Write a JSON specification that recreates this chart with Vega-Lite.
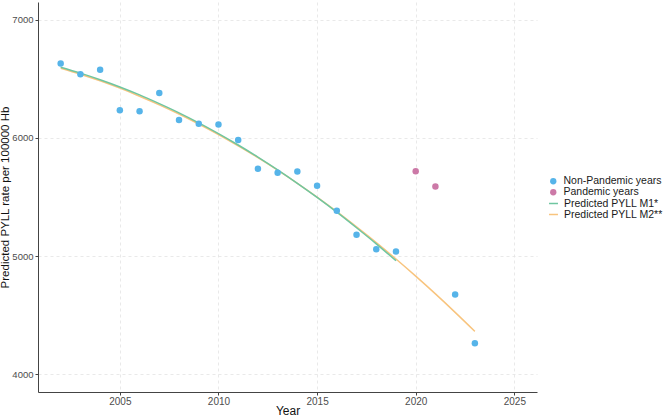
{
  "$schema": "https://vega.github.io/schema/vega-lite/v6.json",
  "width": 499,
  "height": 390,
  "autosize": {"type": "none"},
  "padding": {"left": 38, "top": 2, "right": 132, "bottom": 24},
  "background": "white",
  "config": {
    "font": "Liberation Sans",
    "view": {"stroke": null},
    "axis": {
      "domainColor": "#444444",
      "domainWidth": 1,
      "tickColor": "#444444",
      "tickSize": 3,
      "labelColor": "#4d4d4d",
      "labelFontSize": 10,
      "labelFont": "Liberation Sans",
      "titleFont": "Liberation Sans",
      "titleFontSize": 12,
      "titleFontWeight": "normal",
      "titleColor": "#111111",
      "gridColor": "#e3e3e3",
      "gridDash": [3, 3],
      "gridWidth": 0.8
    },
    "legend": {
      "labelFont": "Liberation Sans",
      "labelFontSize": 10.5,
      "labelColor": "#1a1a1a",
      "labelOffset": 5,
      "rowPadding": -1
    }
  },
  "datasets": {
    "pts": [
      {"year": 2002, "value": 6630, "group": "Non-Pandemic years"},
      {"year": 2003, "value": 6538, "group": "Non-Pandemic years"},
      {"year": 2004, "value": 6576, "group": "Non-Pandemic years"},
      {"year": 2005, "value": 6234, "group": "Non-Pandemic years"},
      {"year": 2006, "value": 6225, "group": "Non-Pandemic years"},
      {"year": 2007, "value": 6380, "group": "Non-Pandemic years"},
      {"year": 2008, "value": 6152, "group": "Non-Pandemic years"},
      {"year": 2009, "value": 6120, "group": "Non-Pandemic years"},
      {"year": 2010, "value": 6114, "group": "Non-Pandemic years"},
      {"year": 2011, "value": 5983, "group": "Non-Pandemic years"},
      {"year": 2012, "value": 5740, "group": "Non-Pandemic years"},
      {"year": 2013, "value": 5705, "group": "Non-Pandemic years"},
      {"year": 2014, "value": 5715, "group": "Non-Pandemic years"},
      {"year": 2015, "value": 5595, "group": "Non-Pandemic years"},
      {"year": 2016, "value": 5384, "group": "Non-Pandemic years"},
      {"year": 2017, "value": 5181, "group": "Non-Pandemic years"},
      {"year": 2018, "value": 5058, "group": "Non-Pandemic years"},
      {"year": 2019, "value": 5038, "group": "Non-Pandemic years"},
      {"year": 2020, "value": 5718, "group": "Pandemic years"},
      {"year": 2021, "value": 5588, "group": "Pandemic years"},
      {"year": 2022, "value": 4675, "group": "Non-Pandemic years"},
      {"year": 2023, "value": 4262, "group": "Non-Pandemic years"}
    ],
    "m1": [
      {"year": 2002, "pred": 6598, "model": "Predicted PYLL M1*"},
      {"year": 2003, "pred": 6548, "model": "Predicted PYLL M1*"},
      {"year": 2004, "pred": 6492, "model": "Predicted PYLL M1*"},
      {"year": 2005, "pred": 6431, "model": "Predicted PYLL M1*"},
      {"year": 2006, "pred": 6364, "model": "Predicted PYLL M1*"},
      {"year": 2007, "pred": 6290, "model": "Predicted PYLL M1*"},
      {"year": 2008, "pred": 6212, "model": "Predicted PYLL M1*"},
      {"year": 2009, "pred": 6127, "model": "Predicted PYLL M1*"},
      {"year": 2010, "pred": 6036, "model": "Predicted PYLL M1*"},
      {"year": 2011, "pred": 5940, "model": "Predicted PYLL M1*"},
      {"year": 2012, "pred": 5838, "model": "Predicted PYLL M1*"},
      {"year": 2013, "pred": 5730, "model": "Predicted PYLL M1*"},
      {"year": 2014, "pred": 5616, "model": "Predicted PYLL M1*"},
      {"year": 2015, "pred": 5497, "model": "Predicted PYLL M1*"},
      {"year": 2016, "pred": 5372, "model": "Predicted PYLL M1*"},
      {"year": 2017, "pred": 5240, "model": "Predicted PYLL M1*"},
      {"year": 2018, "pred": 5104, "model": "Predicted PYLL M1*"},
      {"year": 2019, "pred": 4961, "model": "Predicted PYLL M1*"}
    ],
    "m2": [
      {"year": 2002, "pred": 6590, "model": "Predicted PYLL M2**"},
      {"year": 2003, "pred": 6539, "model": "Predicted PYLL M2**"},
      {"year": 2004, "pred": 6483, "model": "Predicted PYLL M2**"},
      {"year": 2005, "pred": 6421, "model": "Predicted PYLL M2**"},
      {"year": 2006, "pred": 6353, "model": "Predicted PYLL M2**"},
      {"year": 2007, "pred": 6280, "model": "Predicted PYLL M2**"},
      {"year": 2008, "pred": 6202, "model": "Predicted PYLL M2**"},
      {"year": 2009, "pred": 6118, "model": "Predicted PYLL M2**"},
      {"year": 2010, "pred": 6029, "model": "Predicted PYLL M2**"},
      {"year": 2011, "pred": 5933, "model": "Predicted PYLL M2**"},
      {"year": 2012, "pred": 5833, "model": "Predicted PYLL M2**"},
      {"year": 2013, "pred": 5727, "model": "Predicted PYLL M2**"},
      {"year": 2014, "pred": 5616, "model": "Predicted PYLL M2**"},
      {"year": 2015, "pred": 5499, "model": "Predicted PYLL M2**"},
      {"year": 2016, "pred": 5376, "model": "Predicted PYLL M2**"},
      {"year": 2017, "pred": 5247, "model": "Predicted PYLL M2**"},
      {"year": 2018, "pred": 5114, "model": "Predicted PYLL M2**"},
      {"year": 2019, "pred": 4975, "model": "Predicted PYLL M2**"},
      {"year": 2020, "pred": 4830, "model": "Predicted PYLL M2**"},
      {"year": 2021, "pred": 4680, "model": "Predicted PYLL M2**"},
      {"year": 2022, "pred": 4524, "model": "Predicted PYLL M2**"},
      {"year": 2023, "pred": 4363, "model": "Predicted PYLL M2**"}
    ]
  },
  "layer": [
    {
      "data": {"name": "m2"},
      "mark": {"type": "line", "strokeWidth": 1.5, "interpolate": "monotone"},
      "encoding": {
        "x": {"field": "year", "type": "quantitative", "scale": {"domain": [2000.85, 2026.15], "nice": false, "zero": false},
              "axis": {"values": [2005, 2010, 2015, 2020, 2025], "format": "d", "title": "Year", "titleY": 18, "titleBaseline": "middle", "labelPadding": 1}},
        "y": {"field": "pred", "type": "quantitative", "scale": {"domain": [3850, 7150], "nice": false, "zero": false},
              "axis": {"values": [4000, 5000, 6000, 7000], "format": "d", "title": "Predicted PYLL rate per 100000 Hb", "titleFontSize": 11.5, "titleX": -33, "titleY": 195, "titleAngle": -90, "titleBaseline": "middle", "titleAlign": "center", "labelPadding": 2, "labelFontSize": 9.5}},
        "stroke": {"field": "model", "type": "nominal",
                   "scale": {"domain": ["Predicted PYLL M1*", "Predicted PYLL M2**"], "range": ["#6fc6a0", "#f8c47e"]},
                   "legend": {"title": null, "orient": "none", "legendX": 510, "legendY": 196, "symbolType": "stroke", "symbolStrokeWidth": 1.5, "symbolSize": 80}}
      }
    },
    {
      "data": {"name": "m1"},
      "mark": {"type": "line", "strokeWidth": 1.5, "interpolate": "monotone"},
      "encoding": {
        "x": {"field": "year", "type": "quantitative"},
        "y": {"field": "pred", "type": "quantitative"},
        "stroke": {"field": "model", "type": "nominal"}
      }
    },
    {
      "data": {"name": "pts"},
      "mark": {"type": "circle", "size": 42, "opacity": 1},
      "encoding": {
        "x": {"field": "year", "type": "quantitative"},
        "y": {"field": "value", "type": "quantitative"},
        "color": {"field": "group", "type": "nominal",
                  "scale": {"domain": ["Non-Pandemic years", "Pandemic years"], "range": ["#56B4E9", "#CC79A7"]},
                  "legend": {"title": null, "orient": "none", "legendX": 510, "legendY": 174, "symbolType": "circle", "symbolSize": 40}}
      }
    }
  ]
}
